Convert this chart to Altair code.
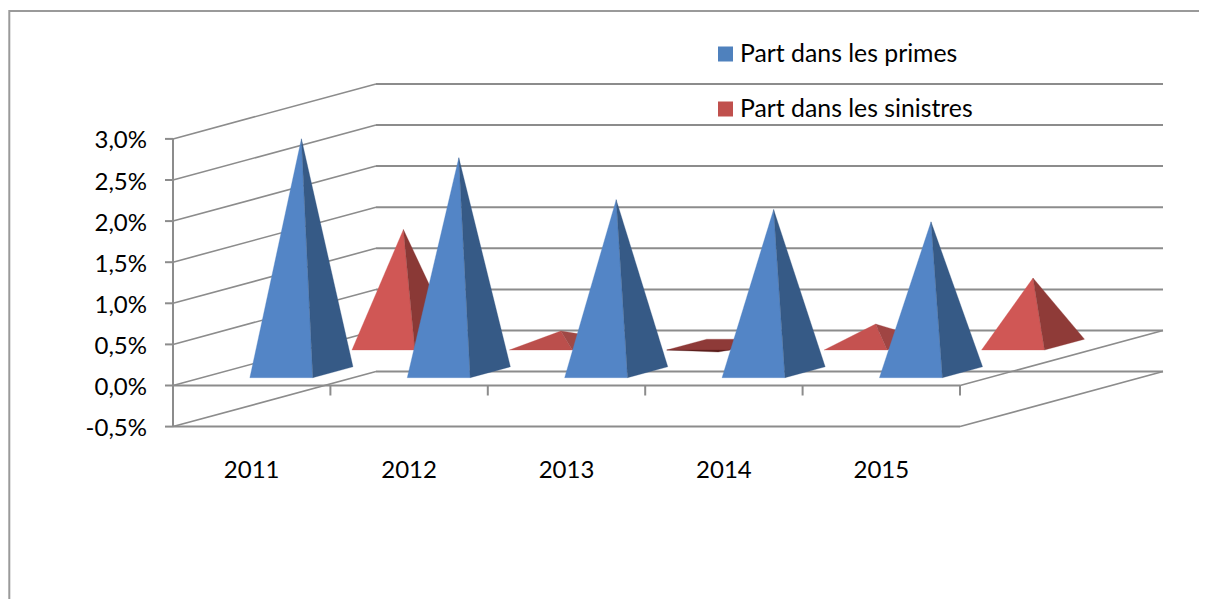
import altair as alt
import pandas as pd

# --- data ---
years = ["2011", "2012", "2013", "2014", "2015"]
part_primes = [2.84, 2.61, 2.10, 1.98, 1.83]
part_sinistres = [1.40, 0.165, -0.09, 0.25, 0.81]
y_ticks = [3.0, 2.5, 2.0, 1.5, 1.0, 0.5, 0.0, -0.5]
y_labels = ["3,0%", "2,5%", "2,0%", "1,5%", "1,0%", "0,5%", "0,0%", "-0,5%"]
series_names = ["Part dans les primes", "Part dans les sinistres"]
series_colors = ["#4f81bd", "#c0504d"]

# face colours: (front, side) for each pyramid, Excel-style shaded by slope
blue_faces = [("#5385c6", "#365a86")] * 5
red_faces = [("#d05755", "#8a3936"), ("#bb4f4c", "#a04845"), ("#8e3a38", "#5c1f1d"),
             ("#c55250", "#a04543"), ("#d05755", "#8f3b38")]

# --- oblique projection: (category position, value %, depth 0..1) -> picture px ---
X0, CAT_W, DX = 173.0, 157.4, 203.0
Y0, K, DY = 385.5, 82.2, 55.0
X_END = X0 + CAT_W * len(years)
X_RIGHT = X_END + DX


def px(c, d):
    return X0 + CAT_W * c + DX * d


def py(v, d):
    return Y0 - K * v - DY * d


W, H = 1191, 591
xs = alt.Scale(domain=[8, 8 + W], range=[0, W], nice=False, zero=False)
ys = alt.Scale(domain=[8 + H, 8], range=[H, 0], nice=False, zero=False)
X = lambda: alt.X("x:Q", scale=xs, axis=None)
Y = lambda: alt.Y("y:Q", scale=ys, axis=None)


def envelope(pts):
    """Convex polygon -> rows of x, y (top), y2 (bottom) for an area mark."""
    xvals = sorted({p[0] for p in pts})
    rows = []
    n = len(pts)
    for x in xvals:
        hits = []
        for i in range(n):
            (a, b), (c, d) = pts[i], pts[(i + 1) % n]
            if min(a, c) <= x <= max(a, c):
                if a == c:
                    hits += [b, d]
                else:
                    hits.append(b + (d - b) * (x - a) / (c - a))
        rows.append({"x": x, "y": min(hits), "y2": max(hits)})
    return rows


def poly(pts, color):
    return alt.Chart(pd.DataFrame(envelope(pts))).mark_area(
        color=color, stroke=color, strokeWidth=0.3, interpolate="linear"
    ).encode(x=X(), y=Y(), y2="y2:Q")


def path(pts, width, color="#8c8c8c"):
    df = pd.DataFrame([{"x": a, "y": b, "i": i} for i, (a, b) in enumerate(pts)])
    return alt.Chart(df).mark_line(color=color, strokeWidth=width, interpolate="linear", clip=True).encode(
        x=X(), y=Y(), order="i:Q"
    )


def pyramids(values, faces, d0, d1, half=0.2):
    out = []
    dm = (d0 + d1) / 2
    for i, (v, (front, side)) in enumerate(zip(values, faces)):
        c = i + 0.505
        fl = (px(c - half, d0), py(0, d0))
        fr = (px(c + half, d0), py(0, d0))
        br = (px(c + half, d1), py(0, d1))
        bl = (px(c - half, d1), py(0, d1))
        apex = (px(c, dm), py(v, dm))
        if v >= 0:
            out.append(poly([fl, fr, apex], front))
            out.append(poly([fr, br, apex], side))
        else:
            out.append(poly([fl, fr, br, bl], front))
            out.append(poly([fl, fr, apex], side))
    return out


layers = []

# outer frame, cut off by the picture edge on the right and at the bottom
layers.append(path([(9.3, 599), (9.3, 11), (8 + W, 11)], 2, "#9a9a9a"))

# grid lines: left wall, back wall, tick stubs
for v in y_ticks:
    layers.append(path([(X0, py(v, 0)), (px(0, 1), py(v, 1))], 1.6))
    layers.append(path([(px(0, 1), py(v, 1)), (X_RIGHT, py(v, 1))], 2))
    layers.append(path([(X0 - 8, py(v, 0)), (X0, py(v, 0))], 2))
for v in [0.0, -0.5]:
    layers.append(path([(X0, py(v, 0)), (X_END, py(v, 0))], 2))
    layers.append(path([(X_END, py(v, 0)), (X_RIGHT, py(v, 1))], 1.6))
layers.append(path([(X0, py(3.0, 0)), (X0, py(-0.5, 0))], 2))
for i in range(len(years) + 1):
    layers.append(path([(px(i, 0), py(0, 0)), (px(i, 0), py(0, 0) + 10)], 2))

# pyramids: the rear series first
layers += pyramids(part_sinistres, red_faces, 0.645, 0.842)
layers += pyramids(part_primes, blue_faces, 0.142, 0.34)

# tick labels
FONT, FS, FS_LEG = "Lato", 24, 24.8
df_y = pd.DataFrame({"x": [147.0] * len(y_ticks), "y": [py(v, 0) + 2.5 for v in y_ticks], "t": y_labels})
layers.append(alt.Chart(df_y).mark_text(font=FONT, fontSize=FS, align="right", baseline="middle", color="#000000").encode(
    x=X(), y=Y(), text="t:N"))
df_x = pd.DataFrame({"x": [px(i + 0.5, 0) for i in range(len(years))], "y": [471.0] * len(years), "t": years})
layers.append(alt.Chart(df_x).mark_text(font=FONT, fontSize=FS, align="center", baseline="middle", color="#000000").encode(
    x=X(), y=Y(), text="t:N"))

# legend
leg_y = [54.0, 109.0]
df_s = pd.DataFrame({"x": [725.5, 725.5], "y": leg_y, "c": series_colors, "t": series_names})
layers.append(alt.Chart(df_s).mark_square(size=225, opacity=1, filled=True).encode(
    x=X(), y=Y(), color=alt.Color("c:N", scale=None)))
df_t = df_s.assign(x=740.0, y=[v + 0.8 for v in leg_y])
layers.append(alt.Chart(df_t).mark_text(font=FONT, fontSize=FS_LEG, align="left", baseline="middle", color="#000000").encode(
    x=X(), y=Y(), text="t:N"))

chart = alt.layer(*layers).properties(
    width=W, height=H, padding=0, autosize=alt.AutoSizeParams(type="none"), background="#ffffff"
).configure_view(stroke=None)

chart.save("out.html", embed_options={"renderer": "svg", "actions": False})
